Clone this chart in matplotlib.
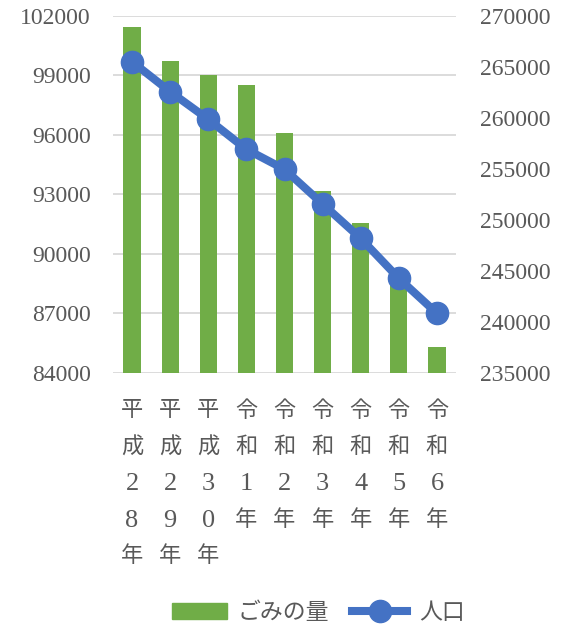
import numpy as np
import matplotlib
matplotlib.use("Agg")
import matplotlib.pyplot as plt
from matplotlib.lines import Line2D
from matplotlib.patches import Patch

plt.rcParams['font.family'] = ['Liberation Serif', 'Noto Sans CJK JP', 'DejaVu Sans']

# データ
categories = ["平成28年", "平成29年", "平成30年", "令和1年", "令和2年",
              "令和3年", "令和4年", "令和5年", "令和6年"]
garbage = [101450, 99730, 99030, 98520, 96100, 93180, 91560, 88500, 85330]    # ごみの量
population = [265520, 262580, 259870, 256930, 254970, 251570, 248200, 244280, 240850]  # 人口

left_ticks = [84000, 87000, 90000, 93000, 96000, 99000, 102000]
right_ticks = [235000, 240000, 245000, 250000, 255000, 260000, 265000, 270000]

GREEN = "#70AD47"
BLUE = "#4472C4"
TXT = "#595959"
GRID = "#D9D9D9"

fig = plt.figure(figsize=(5.68, 6.31), dpi=100)
ax = fig.add_axes([113 / 568, 1 - 373 / 631, (456 - 113) / 568, (373 - 16) / 631])
ax2 = ax.twinx()

x = np.arange(len(categories))
ax.bar(x, garbage, width=0.45, color=GREEN, zorder=2)
ax.set_ylim(left_ticks[0], left_ticks[-1])
ax.set_yticks(left_ticks)
ax.set_xlim(-0.5, len(categories) - 0.5)
ax.grid(axis="y", color=GRID, lw=1.3, zorder=0)
ax.set_axisbelow(True)

ax2.plot(x, population, color=BLUE, lw=5.8, marker="o", ms=16, zorder=3)
ax2.set_ylim(right_ticks[0], right_ticks[-1])
ax2.set_yticks(right_ticks)

# 縦書きのラベル（1文字ずつ等間隔に置く）
ax.set_xticks(x)
ax.set_xticklabels([])
for i, c in enumerate(categories):
    for j, ch in enumerate(c):
        fs = 19 if ch.isdigit() else 16
        ax.annotate(ch, xy=(i, 0), xycoords=("data", "axes fraction"),
                    xytext=(0, -39 - 36.2 * j), textcoords="offset pixels",
                    ha="center", va="center", fontsize=fs, color=TXT)

for a in (ax, ax2):
    for s in a.spines.values():
        s.set_visible(False)
    a.tick_params(length=0, colors=TXT, labelsize=17)
ax.tick_params(axis="y", pad=16)
ax2.tick_params(axis="y", pad=17)

handles = [Patch(color=GREEN, label="ごみの量"),
           Line2D([], [], color=BLUE, lw=5.8, marker="o", ms=16, label="人口")]
fig.legend(handles=handles, loc="lower center", bbox_to_anchor=(0.56, -0.022), ncol=2,
           frameon=False, fontsize=16.5, labelcolor=TXT, handlelength=2.4,
           handleheight=0.7, columnspacing=1.0, handletextpad=0.5)

fig.savefig("out.png", dpi=100)
